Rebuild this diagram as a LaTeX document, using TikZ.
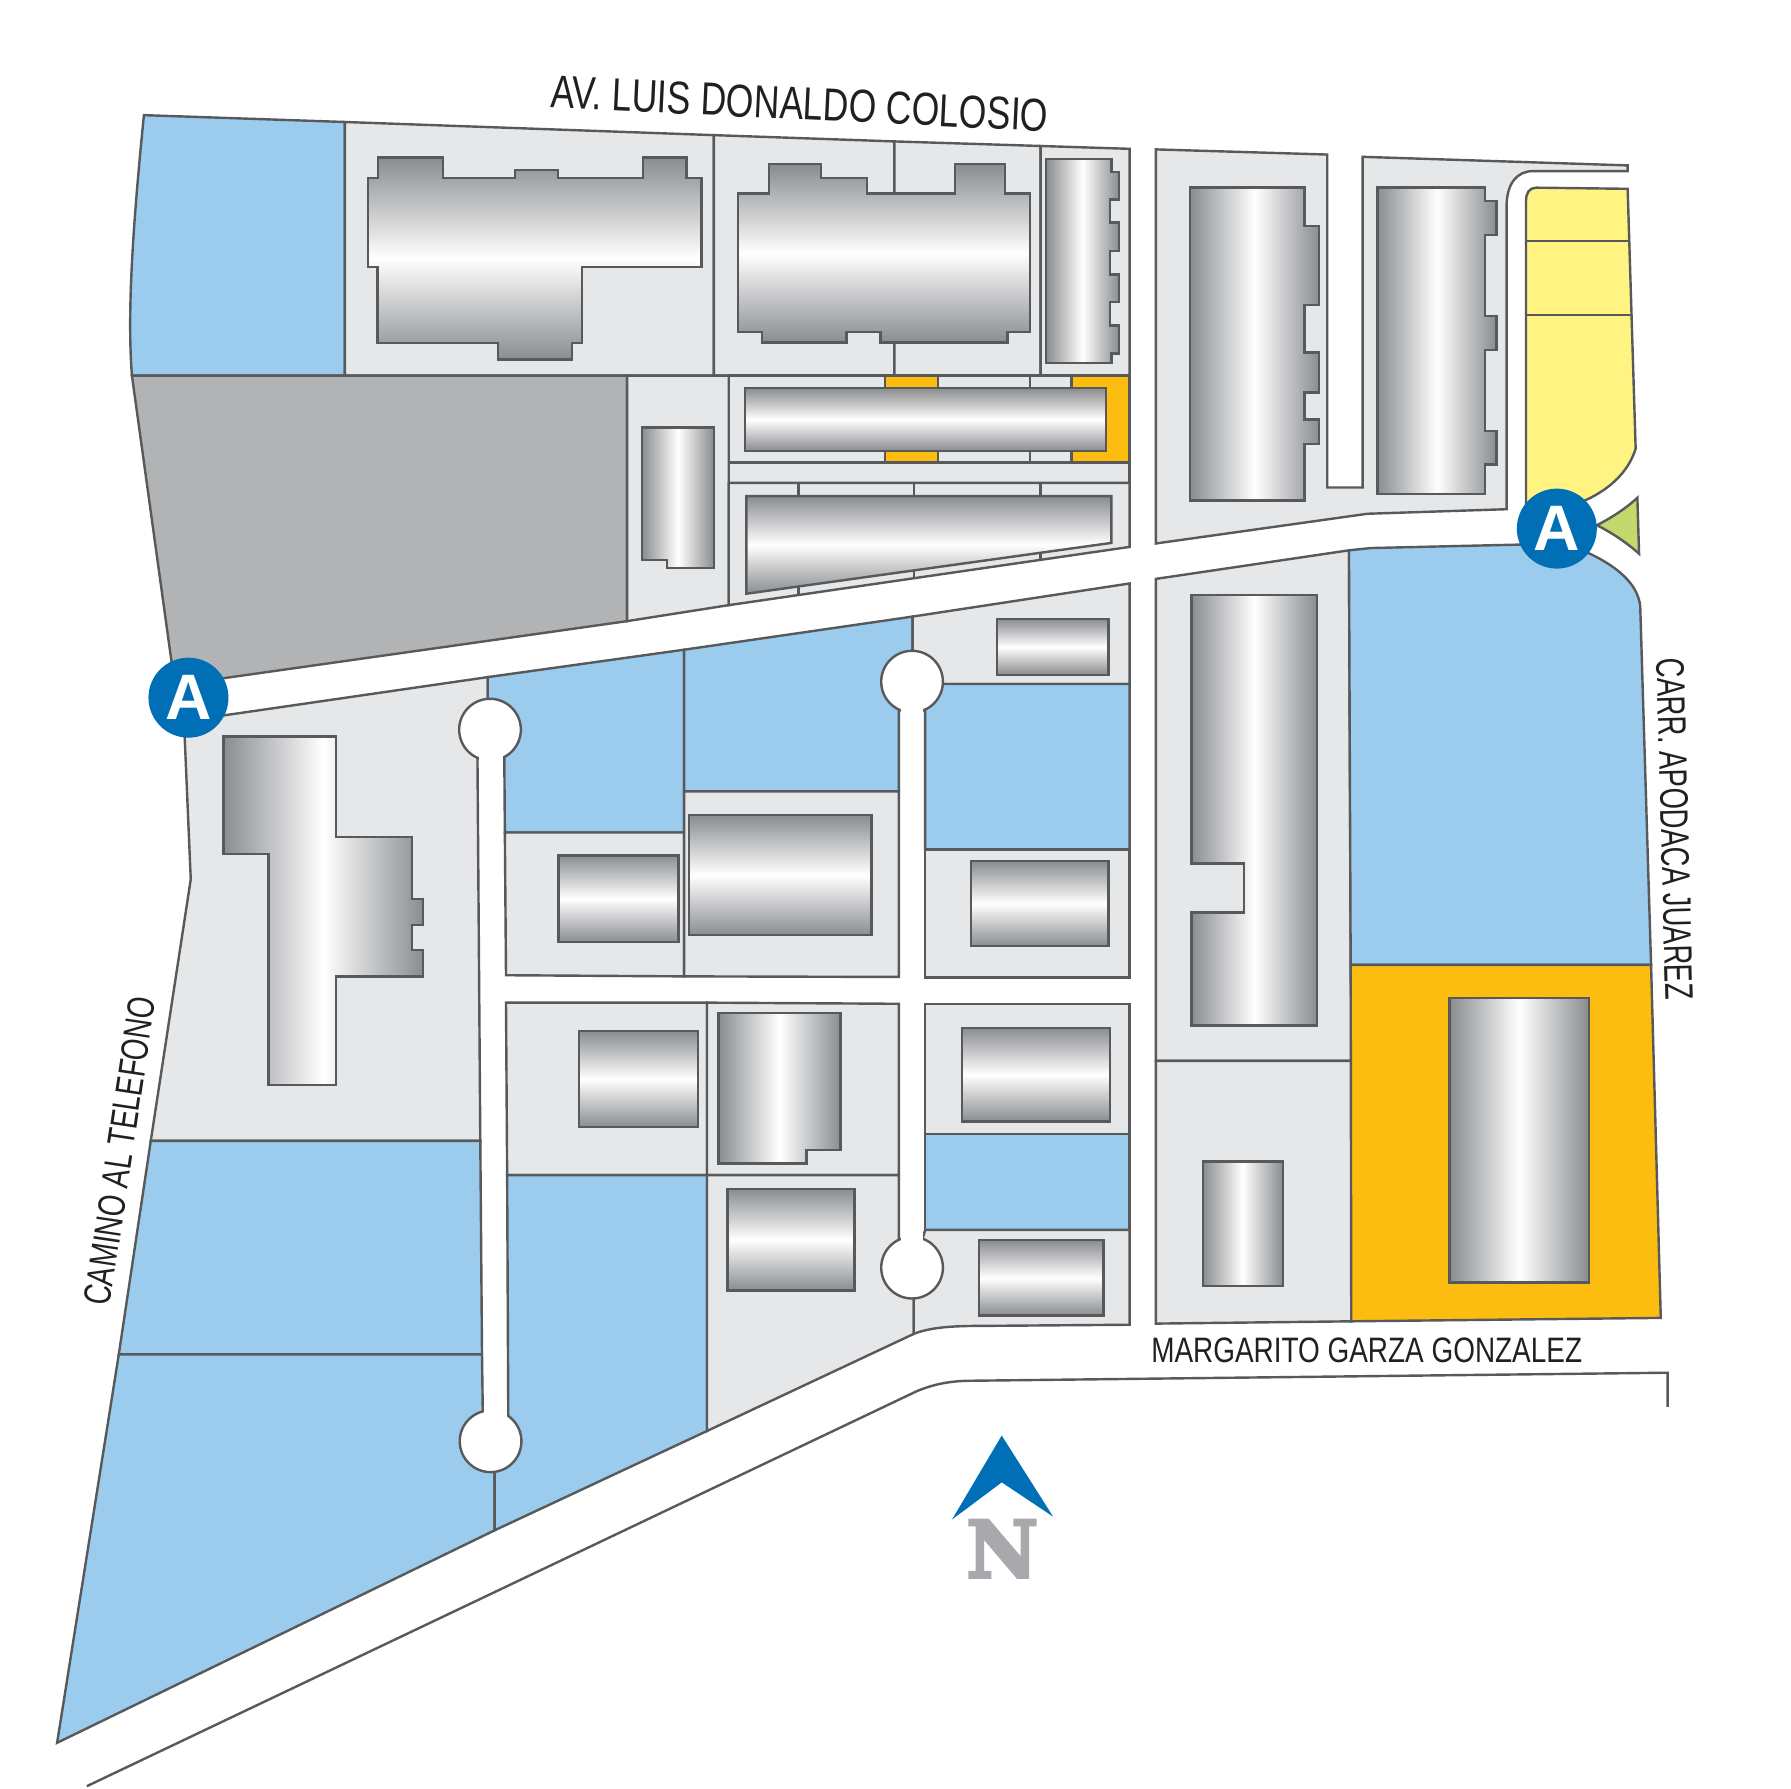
\documentclass[tikz,border=0pt]{standalone}
\usepackage{fontspec}
\newfontfamily\roadtop[FakeStretch=0.77]{Liberation Sans}
\newfontfamily\roadright[FakeStretch=0.69]{Liberation Sans}
\newfontfamily\roadbottom[FakeStretch=0.79]{Liberation Sans}
\newfontfamily\roadleft[FakeStretch=0.73]{Liberation Sans}
\newfontfamily\badgefont{Liberation Sans}
\newfontfamily\northfont[FakeBold=4]{DejaVu Serif Bold}
\definecolor{linegray}{HTML}{58595B}
\definecolor{lotlight}{HTML}{E6E7E8}
\definecolor{lotdark}{HTML}{B1B3B5}
\definecolor{lotblue}{HTML}{9BCCEE}
\definecolor{lotorange}{HTML}{FDBD10}
\definecolor{lotyellow}{HTML}{FFF382}
\definecolor{lotgreen}{HTML}{C4D96B}
\definecolor{mapblue}{HTML}{006FB5}
\definecolor{northgray}{HTML}{A7A9AC}
\definecolor{bldgedge}{HTML}{8A8C8F}
\definecolor{roadtext}{HTML}{231F20}
\tikzset{
  outline/.style={draw=linegray, line width=0.6pt, line join=miter},
  lot/.style={outline, fill=lotlight},
  park/.style={outline, fill=lotblue},
  vacant/.style={outline, fill=lotdark},
  leased/.style={outline, fill=lotorange},
  retail/.style={outline, fill=lotyellow},
  planter/.style={outline, fill=lotgreen},
  bandh/.style={outline, top color=bldgedge, bottom color=bldgedge, middle color=white},
  bandv/.style={outline, left color=bldgedge, right color=bldgedge, middle color=white},
  culdesac/.style={circle, outline, fill=white, minimum size=0.54cm, inner sep=0pt},
  badge/.style={circle, fill=mapblue, text=white, minimum size=0.7cm, inner sep=0pt,
    font=\badgefont\bfseries\fontsize{16}{16}\selectfont},
  roadname/.style={text=roadtext, inner sep=0pt}
}

\begin{document}
\begin{tikzpicture}[x=0.01cm, y=-0.01cm]
\useasboundingbox (0,-0.8) rectangle (1568,1565.45);

% top row
\draw[park] (126,100) .. controls (117,190) and (111,270) .. (115.5,328) -- (302,328) -- (302,106) -- cycle;
\draw[lot] (302,106) -- (625,117.5) -- (625,328) -- (302,328) -- cycle;
\draw[lot] (625,117.5) -- (783,123) -- (783,328) -- (625,328) -- cycle;
\draw[lot] (783,123) -- (911,127) -- (911,328) -- (783,328) -- cycle;
\draw[lot] (911,127) -- (989,129.5) -- (989,328) -- (911,328) -- cycle;

% middle row
\draw[vacant] (115.5,328) -- (549,328) -- (549,543) -- (153,599) -- cycle;
\draw[lot] (549,328) -- (638,328) -- (638,529) -- (549,543) -- cycle;
\draw[lot] (638,328) -- (989,328) -- (989,404) -- (638,404) -- cycle;
\draw[leased] (775,328) rectangle (821,404);
\draw[leased] (938,328) rectangle (989,404);
\draw[outline] (902,328) -- (902,404);
\draw[lot] (638,404) rectangle (989,422);
\draw[lot] (638,422) -- (989,422) -- (989,478) -- (638,529) -- cycle;
\draw[outline] (699,422) -- (699,520);
\draw[outline] (800,422) -- (800,505.5);
\draw[outline] (911,422) -- (911,489);

% upper right block
\draw[lot] (1012,130) -- (1162,134.5) -- (1162,426) -- (1193,426) -- (1193,136.5) -- (1425,144) -- (1425,149)
  -- (1342,149) .. controls (1328,149) and (1319,160) .. (1319,180) -- (1319,445) -- (1197,449) -- (1012,475) -- cycle;
\draw[retail] (1336,175) .. controls (1336,168) and (1339,163.5) .. (1345,163.5) -- (1425,164.5) -- (1432,392)
  .. controls (1425,415) and (1405,430) .. (1386,438) -- (1336,445) -- cycle;
\draw[outline] (1336,210) -- (1426,210);
\draw[outline] (1336,275) -- (1428,275);
\draw[planter] (1398,459) .. controls (1412,452) and (1425,443) .. (1433.5,435) -- (1435,484)
  .. controls (1425,475) and (1412,466) .. (1398,459) -- cycle;

% lower right block
\draw[lot] (1012,506) -- (1181,481) -- (1183,928) -- (1012,928) -- cycle;
\draw[lot] (1012,928) -- (1183,928) -- (1183,1156) -- (1012,1158) -- cycle;
\draw[park] (1181,481) -- (1200,479) -- (1330,476) -- (1380,480) -- (1392,484)
  .. controls (1415,495) and (1434,510) .. (1436,530) -- (1445.5,844) -- (1182.5,844) -- cycle;
\draw[leased] (1182.5,844) -- (1445.5,844) -- (1454,1153) -- (1183,1156) -- cycle;

% west side
\draw[lot] (165,630) -- (427,592) -- (427,638) -- (418,660) -- (420.5,998) -- (132,998) -- (167,769) -- (161.5,640) -- cycle;
\draw[park] (132,998) -- (420.5,998) -- (422,1185) -- (104,1185) -- cycle;
\draw[park] (104,1185) -- (422,1185) -- (423,1260) -- (433,1260) -- (433,1339) -- (50,1525) -- cycle;

% center blocks
\draw[park] (427,592) -- (599,568) -- (599,728) -- (442,728) -- (441.5,660) -- (427,638) -- cycle;
\draw[park] (599,568) -- (799,539) -- (799,596) -- (787,620) -- (787,692) -- (599,692) -- cycle;
\draw[lot] (442,728) -- (599,728) -- (599,854) -- (443,853) -- cycle;
\draw[lot] (599,692) -- (787,692) -- (787,854.5) -- (599,854) -- cycle;
\draw[lot] (443,877) -- (619,877) -- (619,1028) -- (444,1028) -- cycle;
\draw[lot] (619,877) -- (787,878) -- (787,1028) -- (619,1028) -- cycle;
\draw[park] (444,1028) -- (619,1028) -- (619,1252) -- (433,1339) -- (433,1260) -- (445,1240) -- cycle;
\draw[lot] (619,1028) -- (787,1028) -- (787,1109) -- (800,1109) -- (800,1167) -- (619,1252) -- cycle;

% east of the second street
\draw[lot] (799,539) -- (989,510) -- (989,598) -- (799,598) -- cycle;
\draw[park] (799,598) -- (989,598) -- (989,743) -- (810,743) -- (810,620) -- cycle;
\draw[lot] (810,743) rectangle (989,855);
\draw[lot] (810,878) rectangle (989,992);
\draw[park] (810,992) rectangle (989,1076);
\draw[lot] (810,1076) -- (989,1076) -- (989,1159) -- (860,1160) .. controls (835,1160) and (815,1161) .. (800,1167) -- (800,1109) -- cycle;

% street ends
\node[culdesac] (northend) at (429,638) {};
\node[culdesac] (southend) at (429.5,1261) {};
\node[culdesac] (eastnorth) at (798.5,596) {};
\node[culdesac] (eastsouth) at (798.5,1109) {};
\fill[white] (419.5,650) rectangle (440.5,672);
\fill[white] (424,1225) rectangle (444,1240);
\fill[white] (788.5,610) rectangle (808.5,630);
\fill[white] (788.5,1075) rectangle (808.5,1095);

% outer road line
\draw[outline] (76,1563) -- (803,1217) .. controls (820,1210) and (835,1208) .. (852,1208) -- (1460,1201) -- (1460,1231);

% buildings
\draw[bandh] (331,137) -- (388,137) -- (388,155) -- (451,155) -- (451,148) -- (488.5,148) -- (488.5,155) -- (563,155) -- (563,137) -- (601,137) -- (601,155) -- (614,155) -- (614,233) -- (509.5,233) -- (509.5,299.7) -- (501,299.7) -- (501,314) -- (436,314) -- (436,299.7) -- (330.5,299.7) -- (330.5,233) -- (322,233) -- (322,155) -- (331,155) -- cycle;
\draw[bandh] (646,168.7) -- (673,168.7) -- (673,143) -- (719,143) -- (719,155) -- (759,155) -- (759,168.7) -- (836,168.7) -- (836,143) -- (880,143) -- (880,168.7) -- (902,168.7) -- (902,289.7) -- (882,289.7) -- (882,299) -- (771,299) -- (771,289.7) -- (741,289.7) -- (741,299) -- (667,299) -- (667,289.7) -- (646,289.7) -- cycle;
\draw[bandv] (916,138.6) -- (973,138.6) -- (973,149.6) -- (979.5,149.6) -- (979.5,174) -- (972,174) -- (972,194) -- (979.5,194) -- (979.5,219) -- (972,219) -- (972,239.5) -- (979.5,239.5) -- (979.5,263.5) -- (972,263.5) -- (972,284) -- (979.5,284) -- (979.5,308.7) -- (973,308.7) -- (973,317) -- (916,317) -- cycle;
\draw[bandv] (562,373.5) -- (625,373.5) -- (625,496.5) -- (584,496.5) -- (584,489.5) -- (562,489.5) -- cycle;
\draw[bandh] (652,339) rectangle (968.5,394);
\draw[bandh] (653.5,433.5) -- (973,433.5) -- (973,474.5) -- (653.5,519) -- cycle;
\draw[bandv] (1042,163.5) -- (1142,163.5) -- (1142,197) -- (1155,197) -- (1155,266) -- (1142,266) -- (1142,307.7) -- (1155,307.7) -- (1155,343) -- (1142,343) -- (1142,366.5) -- (1155,366.5) -- (1155,388) -- (1142,388) -- (1142,437.5) -- (1042,437.5) -- cycle;
\draw[bandv] (1206,163.5) -- (1300,163.5) -- (1300,175) -- (1310,175) -- (1310,205) -- (1300,205) -- (1300,276) -- (1310,276) -- (1310,305.7) -- (1300,305.7) -- (1300,376.5) -- (1310,376.5) -- (1310,406) -- (1300,406) -- (1300,431.5) -- (1206,431.5) -- cycle;
\draw[bandv] (1043,520) -- (1153,520) -- (1153,897) -- (1043,897) -- (1043,798) -- (1089,798) -- (1089,755) -- (1043,755) -- cycle;
\draw[bandv] (1053,1016) rectangle (1123,1125);
\draw[bandv] (1269,873) rectangle (1391,1122);
\draw[bandv] (195.5,644) -- (294,644) -- (294,732) -- (360.5,732) -- (360.5,786) -- (370.5,786) -- (370.5,809) -- (360.5,809) -- (360.5,831) -- (370.5,831) -- (370.5,854) -- (294,854) -- (294,949) -- (235,949) -- (235,747) -- (195.5,747) -- cycle;
\draw[bandh] (489,748) rectangle (594,824);
\draw[bandh] (603,712.5) rectangle (763,818);
\draw[bandh] (850,753) rectangle (970.5,827.5);
\draw[bandh] (873,541) rectangle (970.5,590);
\draw[bandh] (507,902) rectangle (611,986);
\draw[bandv] (629,886) -- (736,886) -- (736,1006) -- (706,1006) -- (706,1018) -- (629,1018) -- cycle;
\draw[bandh] (637,1040) rectangle (748,1129);
\draw[bandh] (842,899) rectangle (972,981);
\draw[bandh] (857,1085) rectangle (966,1151);

% access points
\node[badge] (accesswest) at (165,610) {A};
\node[badge] (accesseast) at (1363,462) {A};

% road names
\node[roadname, rotate=-2.7, font=\roadtop\fontsize{11.5}{12}\selectfont] (colosio) at (700,90) {AV. LUIS DONALDO COLOSIO};
\node[roadname, rotate=-88.5, font=\roadright\fontsize{9.9}{10}\selectfont] (apodaca) at (1466.5,725) {CARR. APODACA JUAREZ};
\node[roadname, font=\roadbottom\fontsize{8.8}{9}\selectfont] (margarito) at (1196.5,1181) {MARGARITO GARZA GONZALEZ};
\node[roadname, rotate=81.5, font=\roadleft\fontsize{9.5}{10}\selectfont] (telefono) at (105,1007) {CAMINO AL TELEFONO};

% north arrow
\fill[mapblue] (877,1256) -- (922,1327) -- (877,1297) -- (833.5,1329.5) -- cycle;
\node[text=northgray, inner sep=0pt, font=\northfont\fontsize{19.5}{20}\selectfont] (north) at (877.5,1355) {N};
\end{tikzpicture}
\end{document}
